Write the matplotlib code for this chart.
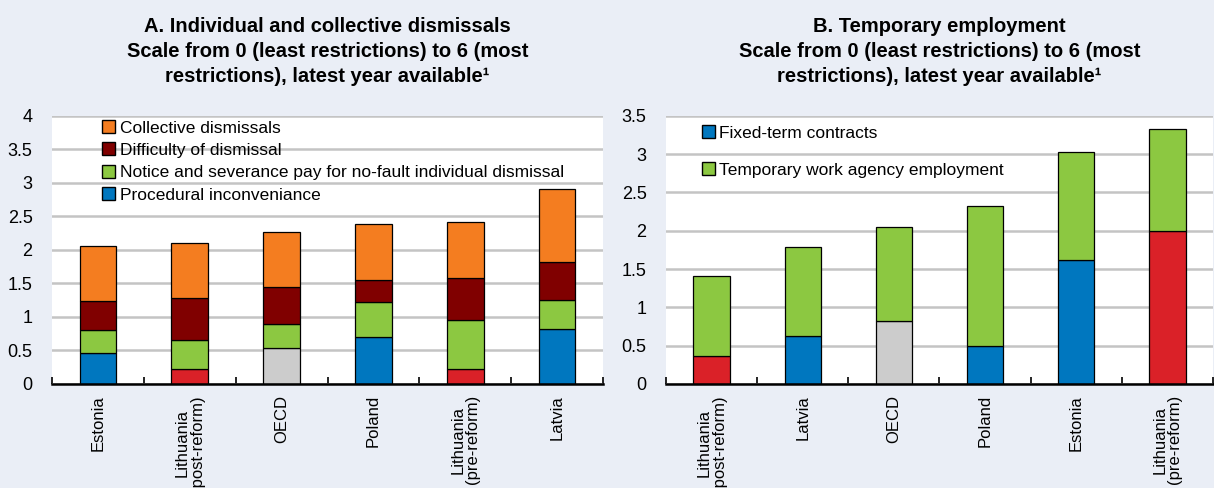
import numpy as np
import matplotlib.pyplot as plt
from matplotlib.patches import Patch
from matplotlib.ticker import FuncFormatter, FixedLocator

# Panel A: individual and collective dismissals (segment heights)
countries_a = ['Estonia', 'Lithuania\n(post-reform)', 'OECD', 'Poland',
               'Lithuania\n(pre-reform)', 'Latvia']
procedural = [0.46, 0.23, 0.53, 0.70, 0.23, 0.82]
notice = [0.34, 0.43, 0.36, 0.52, 0.73, 0.43]
difficulty = [0.44, 0.62, 0.55, 0.33, 0.62, 0.57]
collective = [0.82, 0.82, 0.83, 0.83, 0.83, 1.08]
base_kind_a = ['c', 'h', 'o', 'c', 'h', 'c']

# Panel B: temporary employment (segment heights)
countries_b = ['Lithuania\n(post-reform)', 'Latvia', 'OECD', 'Poland',
               'Estonia', 'Lithuania\n(pre-reform)']
fixed_term = [0.37, 0.62, 0.82, 0.49, 1.62, 2.00]
temp_agency = [1.04, 1.17, 1.23, 1.83, 1.41, 1.32]
base_kind_b = ['h', 'c', 'o', 'c', 'c', 'h']

BLUE = '#0077BF'
RED = '#DA2128'
GREY = '#CCCCCC'
GREEN = '#8CC841'
DARKRED = '#800000'
ORANGE = '#F47D20'
BG = '#EAEEF6'
kind_col = {'c': BLUE, 'h': RED, 'o': GREY}

plt.rcParams['font.family'] = ['Liberation Sans', 'DejaVu Sans']

fig = plt.figure(figsize=(12.14, 4.88), dpi=100, facecolor=BG)
axA = fig.add_axes([52 / 1214, 104 / 488, 551 / 1214, 268.3 / 488])
axB = fig.add_axes([666 / 1214, 104 / 488, 547 / 1214, 268.3 / 488])


def style(ax, ymax, labels):
    ax.set_facecolor('white')
    for s in ['left', 'top', 'right']:
        ax.spines[s].set_visible(False)
    ax.spines['bottom'].set_linewidth(1.8)
    ax.set_xlim(-0.5, 5.5)
    ax.set_ylim(0, ymax)
    ax.set_yticks(np.arange(0, ymax + 0.01, 0.5))
    ax.yaxis.set_major_formatter(FuncFormatter(lambda v, p: '%g' % v))
    ax.tick_params(axis='y', length=0, pad=14, labelsize=13)
    ax.grid(axis='y', color='#C4C4C4', linewidth=1.8)
    ax.set_axisbelow(True)
    ax.set_xticks(range(6))
    ax.set_xticklabels(labels, rotation=90, va='top', ha='center',
                       multialignment='center', fontsize=12, linespacing=1.0)
    ax.tick_params(axis='x', which='major', length=0, pad=8)
    ax.xaxis.set_minor_locator(FixedLocator(np.arange(-0.5, 6, 1)))
    ax.tick_params(axis='x', which='minor', direction='in', length=5, width=1.2)


x = np.arange(6)
w = 0.4
ekw = dict(edgecolor='black', linewidth=0.9, width=w)

# Panel A
cols_a = [kind_col[k] for k in base_kind_a]
axA.bar(x, procedural, color=cols_a, **ekw)
b1 = np.array(procedural)
axA.bar(x, notice, bottom=b1, color=GREEN, **ekw)
b2 = b1 + np.array(notice)
axA.bar(x, difficulty, bottom=b2, color=DARKRED, **ekw)
b3 = b2 + np.array(difficulty)
axA.bar(x, collective, bottom=b3, color=ORANGE, **ekw)
style(axA, 4, countries_a)

hA = [Patch(facecolor=ORANGE, edgecolor='black', label='Collective dismissals'),
      Patch(facecolor=DARKRED, edgecolor='black', label='Difficulty of dismissal'),
      Patch(facecolor=GREEN, edgecolor='black',
            label='Notice and severance pay for no-fault individual dismissal'),
      Patch(facecolor=BLUE, edgecolor='black', label='Procedural inconveniance')]
axA.legend(handles=hA, loc='upper left', bbox_to_anchor=(0.088, 0.99), frameon=False,
           fontsize=12.5, handlelength=0.75, handleheight=0.75, handletextpad=0.25,
           labelspacing=0.4, borderpad=0.1, borderaxespad=0)

axA.set_title('A. Individual and collective dismissals\n'
              'Scale from 0 (least restrictions) to 6 (most\n'
              'restrictions), latest year available\u00b9',
              fontsize=14.5, fontweight='bold', linespacing=1.4, pad=24)

# Panel B
cols_b = [kind_col[k] for k in base_kind_b]
axB.bar(x, fixed_term, color=cols_b, **ekw)
axB.bar(x, temp_agency, bottom=fixed_term, color=GREEN, **ekw)
style(axB, 3.5, countries_b)

hB = [Patch(facecolor=BLUE, edgecolor='black', label='Fixed-term contracts'),
      Patch(facecolor=GREEN, edgecolor='black', label='Temporary work agency employment')]
axB.legend(handles=hB, loc='upper left', bbox_to_anchor=(0.062, 0.97), frameon=False,
           fontsize=12.5, handlelength=0.75, handleheight=0.75, handletextpad=0.25,
           labelspacing=1.23, borderpad=0.1, borderaxespad=0)

axB.set_title('B. Temporary employment\n'
              'Scale from 0 (least restrictions) to 6 (most\n'
              'restrictions), latest year available\u00b9',
              fontsize=14.5, fontweight='bold', linespacing=1.4, pad=24)

fig.savefig('out.png', dpi=100, facecolor=BG)
